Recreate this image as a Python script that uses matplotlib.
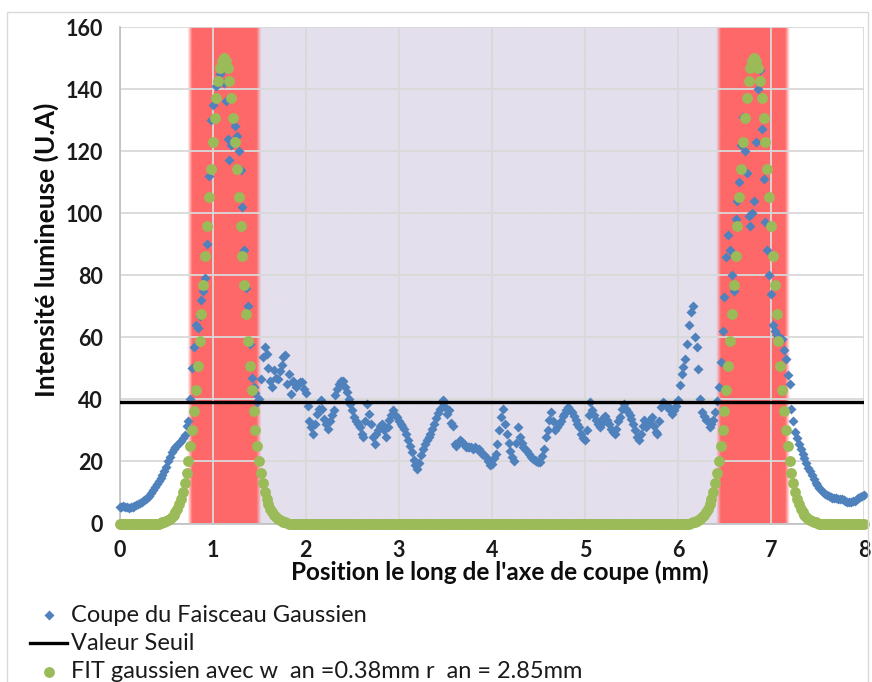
import numpy as np
import matplotlib
matplotlib.use("Agg")
import matplotlib.pyplot as plt
from matplotlib.lines import Line2D
from matplotlib.patches import Rectangle

plt.rcParams['font.family'] = ['Lato', 'DejaVu Sans']

# position le long de l'axe (mm)
x_mm = [
    0.00, 0.02, 0.04, 0.06, 0.08, 0.10, 0.12, 0.14, 0.16, 0.18,
    0.20, 0.22, 0.24, 0.26, 0.28, 0.30, 0.32, 0.34, 0.36, 0.38,
    0.40, 0.42, 0.44, 0.46, 0.48, 0.50, 0.52, 0.54, 0.56, 0.58,
    0.60, 0.62, 0.64, 0.66, 0.68, 0.70, 0.72, 0.74, 0.76, 0.78,
    0.80, 0.82, 0.84, 0.86, 0.88, 0.90, 0.92, 0.94, 0.96, 0.98,
    1.00, 1.02, 1.04, 1.06, 1.08, 1.10, 1.12, 1.14, 1.16, 1.18,
    1.20, 1.22, 1.24, 1.26, 1.28, 1.30, 1.32, 1.34, 1.36, 1.38,
    1.40, 1.42, 1.44, 1.46, 1.48, 1.50, 1.52, 1.54, 1.56, 1.58,
    1.60, 1.62, 1.64, 1.66, 1.68, 1.70, 1.72, 1.74, 1.76, 1.78,
    1.80, 1.82, 1.84, 1.86, 1.88, 1.90, 1.92, 1.94, 1.96, 1.98,
    2.00, 2.02, 2.04, 2.06, 2.08, 2.10, 2.12, 2.14, 2.16, 2.18,
    2.20, 2.22, 2.24, 2.26, 2.28, 2.30, 2.32, 2.34, 2.36, 2.38,
    2.40, 2.42, 2.44, 2.46, 2.48, 2.50, 2.52, 2.54, 2.56, 2.58,
    2.60, 2.62, 2.64, 2.66, 2.68, 2.70, 2.72, 2.74, 2.76, 2.78,
    2.80, 2.82, 2.84, 2.86, 2.88, 2.90, 2.92, 2.94, 2.96, 2.98,
    3.00, 3.02, 3.04, 3.06, 3.08, 3.10, 3.12, 3.14, 3.16, 3.18,
    3.20, 3.22, 3.24, 3.26, 3.28, 3.30, 3.32, 3.34, 3.36, 3.38,
    3.40, 3.42, 3.44, 3.46, 3.48, 3.50, 3.52, 3.54, 3.56, 3.58,
    3.60, 3.62, 3.64, 3.66, 3.68, 3.70, 3.72, 3.74, 3.76, 3.78,
    3.80, 3.82, 3.84, 3.86, 3.88, 3.90, 3.92, 3.94, 3.96, 3.98,
    4.00, 4.02, 4.04, 4.06, 4.08, 4.10, 4.12, 4.14, 4.16, 4.18,
    4.20, 4.22, 4.24, 4.26, 4.28, 4.30, 4.32, 4.34, 4.36, 4.38,
    4.40, 4.42, 4.44, 4.46, 4.48, 4.50, 4.52, 4.54, 4.56, 4.58,
    4.60, 4.62, 4.64, 4.66, 4.68, 4.70, 4.72, 4.74, 4.76, 4.78,
    4.80, 4.82, 4.84, 4.86, 4.88, 4.90, 4.92, 4.94, 4.96, 4.98,
    5.00, 5.02, 5.04, 5.06, 5.08, 5.10, 5.12, 5.14, 5.16, 5.18,
    5.20, 5.22, 5.24, 5.26, 5.28, 5.30, 5.32, 5.34, 5.36, 5.38,
    5.40, 5.42, 5.44, 5.46, 5.48, 5.50, 5.52, 5.54, 5.56, 5.58,
    5.60, 5.62, 5.64, 5.66, 5.68, 5.70, 5.72, 5.74, 5.76, 5.78,
    5.80, 5.82, 5.84, 5.86, 5.88, 5.90, 5.92, 5.94, 5.96, 5.98,
    6.00, 6.02, 6.04, 6.06, 6.08, 6.10, 6.12, 6.14, 6.16, 6.18,
    6.20, 6.22, 6.24, 6.26, 6.28, 6.30, 6.32, 6.34, 6.36, 6.38,
    6.40, 6.42, 6.44, 6.46, 6.48, 6.50, 6.52, 6.54, 6.56, 6.58,
    6.60, 6.62, 6.64, 6.66, 6.68, 6.70, 6.72, 6.74, 6.76, 6.78,
    6.80, 6.82, 6.84, 6.86, 6.88, 6.90, 6.92, 6.94, 6.96, 6.98,
    7.00, 7.02, 7.04, 7.06, 7.08, 7.10, 7.12, 7.14, 7.16, 7.18,
    7.20, 7.22, 7.24, 7.26, 7.28, 7.30, 7.32, 7.34, 7.36, 7.38,
    7.40, 7.42, 7.44, 7.46, 7.48, 7.50, 7.52, 7.54, 7.56, 7.58,
    7.60, 7.62, 7.64, 7.66, 7.68, 7.70, 7.72, 7.74, 7.76, 7.78,
    7.80, 7.82, 7.84, 7.86, 7.88, 7.90, 7.92, 7.94, 7.96, 7.98,
    8.00,
]

# coupe mesuree (U.A)
coupe = [
    5.3, 5.4, 5.5, 5.3, 5.2, 5.0, 5.2, 5.4, 5.6, 5.9,
    6.3, 6.6, 7.0, 7.5, 8.0, 8.4, 8.9, 9.8, 10.8, 11.8,
    12.7, 13.6, 14.6, 15.5, 17.0, 18.3, 20.0, 21.5, 23.0, 24.0,
    24.8, 25.3, 26.0, 26.6, 27.5, 28.5, 31.5, 33.0, 40.0, 50.0,
    57, 64, 63, 67, 72, 75, 79, 90, 112, 130,
    135, 137, 141, 143, 145, 146, 142, 136, 124, 117,
    122, 130, 128, 125, 120, 114, 102, 88, 76, 70,
    58, 47, 44, 42, 39, 40, 46.7, 53.6, 56.9, 54.7,
    50, 46, 44, 49.4, 47, 46.7, 49, 51, 53.6, 54.2,
    45, 48.3, 41.8, 46, 45, 44, 45, 45.6, 45.6, 43.4,
    42, 38, 33, 31, 28.9, 32, 35.4, 37, 39.7, 37,
    33.8, 32, 30.5, 33, 35, 36.5, 41.3, 43.5, 45, 46,
    46, 44, 42.4, 40, 38.6, 36.5, 34.3, 33, 32, 31,
    29, 27.8, 33, 38.6, 35.4, 32, 28, 25.7, 28.9, 30,
    31.5, 32.2, 30, 27.8, 31, 33.5, 35, 36.5, 35, 34.3,
    33, 32.2, 31.5, 30.5, 29, 26.8, 25, 23, 20.5, 19,
    17.6, 19.5, 22, 24, 25.7, 27, 28, 28.9, 30.5, 32,
    34, 35.5, 37, 39.1, 39.7, 37.5, 35.4, 36.5, 32.5, 31.3,
    25.7, 25, 26, 26.8, 26.2, 25.5, 24.6, 24.8, 24.6, 24.6,
    24, 24.5, 24, 24, 23, 22.5, 22, 21.4, 20, 18.7,
    19.3, 21, 22.5, 25.7, 30, 34.3, 37, 32, 28.9, 26,
    23.5, 21.5, 20.3, 26, 31, 27.8, 26, 24.6, 24, 23.5,
    22.5, 21.5, 20.9, 20.5, 20, 19.8, 19.8, 21.9, 24, 27.8,
    30, 33.2, 35.9, 33, 30, 31, 32.2, 33, 34.5, 35.4,
    36.5, 37.5, 36.5, 35.9, 34.5, 33.2, 32, 31, 29, 27.5,
    26.8, 30, 35, 39.1, 36.5, 35, 33.2, 32, 31, 32.5,
    34, 34.8, 33.5, 32.2, 30.5, 29.5, 28.9, 30.5, 33, 34.3,
    37, 38.6, 37, 36, 35, 33.8, 32, 30, 28, 26.8,
    29, 31.5, 33.2, 31, 32.5, 33.2, 34.3, 31.5, 29.5, 28.9,
    33, 37.5, 39.1, 38.5, 37.5, 37.5, 36.5, 35.4, 36.5, 38,
    39.7, 44.5, 48.3, 50.4, 53, 58, 64, 68, 70, 60,
    56.9, 49.9, 40, 36, 34.5, 33.5, 33, 31, 32, 33.2,
    36, 39.5, 44, 52, 62, 73, 86, 93, 88, 80,
    75, 98, 104, 110, 122, 131, 120, 113, 99, 96,
    100, 104, 123, 140, 146, 127, 111, 97, 88, 80,
    74, 64, 62, 60.6, 60, 59.8, 59.6, 56, 53, 48,
    45, 37, 33, 29.5, 27.5, 25.5, 24, 22.5, 21, 19.5,
    18, 17, 15.5, 14.2, 13.2, 12.3, 11.5, 10.8, 10.2, 9.6,
    9.2, 8.8, 8.5, 8.3, 8.2, 8.1, 8.0, 8.0, 7.8, 7.5,
    7.2, 7.0, 6.9, 7.0, 7.2, 7.4, 7.8, 8.2, 8.5, 8.8,
    9.2,
]

# pic du fit gaussien (valeurs lues de 0.44 a 1.80 mm, identique pour le second pic)
pic_fit = [
    0.25, 0.36, 0.52, 0.73, 1.02, 1.42, 1.95, 2.64, 3.55, 4.70,
    6.17, 8.01, 10.27, 13.03, 16.36, 20.30, 24.92, 30.26, 36.32, 43.13,
    50.64, 58.81, 67.55, 76.73, 86.20, 95.77, 105.22, 114.34, 122.88, 130.60,
    137.28, 142.70, 146.71, 149.17, 150.00, 149.17, 146.71, 142.70, 137.28, 130.60,
    122.88, 114.34, 105.22, 95.77, 86.20, 76.73, 67.55, 58.81, 50.64, 43.13,
    36.32, 30.26, 24.92, 20.30, 16.36, 13.03, 10.27, 8.01, 6.17, 4.70,
    3.55, 2.64, 1.95, 1.42, 1.02, 0.73, 0.52, 0.36, 0.25,
]
fit = [0.0] * 22 + pic_fit + [0.0] * 216 + pic_fit + [0.0] * 25

seuil = 39
bandes_rouges = [(0.75, 1.49), (6.43, 7.17)]
bande_lavande = (1.49, 6.43)

bleu = '#4F81BD'
vert = '#9BBB59'
rouge = np.array([254, 104, 104]) / 255
lavande = np.array([228, 223, 236]) / 255

W, H = 872, 682
fig = plt.figure(figsize=(W / 100, H / 100), dpi=100)
ax = fig.add_axes([119.6 / W, 1 - 523.5 / H, (864 - 119.6) / W, (523.5 - 27) / H])

# fond: bandes floues
xs = np.linspace(0, 8, 2000)
e = 0.025


def ramp(a, b):
    return np.clip((xs - a) / (2 * e) + 0.5, 0, 1) * np.clip((b - xs) / (2 * e) + 0.5, 0, 1)


w_r = sum(ramp(a, b) for a, b in bandes_rouges)
w_l = ramp(*bande_lavande)
img = np.ones((1, len(xs), 3))
img = img * (1 - w_r - w_l)[None, :, None] + rouge * w_r[None, :, None] + lavande * w_l[None, :, None]
ax.imshow(img, extent=[0, 8, 0, 160], aspect='auto', zorder=0, interpolation='bilinear')

ax.plot(x_mm, coupe, linestyle='none', marker='D', ms=5.0, color=bleu, mec='none',
        clip_on=False, zorder=3)
ax.plot([0, 8], [seuil, seuil], color='black', lw=2.4, zorder=4)
ax.plot(x_mm, fit, linestyle='none', marker='o', ms=7.8, color=vert, mec='none',
        clip_on=False, zorder=5)

ax.set_xlim(0, 8)
ax.set_ylim(0, 160)
ax.set_xticks(range(0, 9))
ax.set_yticks(range(0, 161, 20))
ax.set_axisbelow(True)
ax.grid(True, color='#D9D9D9', lw=1.3)
for s in ['top', 'right']:
    ax.spines[s].set_visible(False)
for s in ['left', 'bottom']:
    ax.spines[s].set_color('#BFBFBF')
    ax.spines[s].set_linewidth(1.2)
ax.tick_params(length=0, labelsize=15.5, pad=12)
for lab in ax.get_xticklabels() + ax.get_yticklabels():
    lab.set_fontweight('bold')
    lab.set_color('#1A1A1A')

fig.text(46 / W, 1 - 250 / H, "Intensité lumineuse (U.A)", rotation=90, ha='center', va='center',
         fontsize=19, fontweight='bold', color='#0D0D0D')
fig.text(500 / W, 1 - 572 / H, "Position le long de l'axe de coupe (mm)", ha='center', va='center',
         fontsize=17.5, fontweight='bold', color='#0D0D0D')

# légende
rows = [615, 643, 672]
labels = ["Coupe du Faisceau Gaussien", "Valeur Seuil", "FIT gaussien avec w  an =0.38mm r  an = 2.85mm"]
fig.add_artist(Line2D([48.5 / W], [1 - rows[0] / H], marker='D', ms=5.0, color=bleu, mec='none',
                      linestyle='none', transform=fig.transFigure))
fig.add_artist(Line2D([30 / W, 67 / W], [1 - rows[1] / H] * 2, color='black', lw=2.4,
                      transform=fig.transFigure))
fig.add_artist(Line2D([48.5 / W], [1 - rows[2] / H], marker='o', ms=7.8, color=vert, mec='none',
                      linestyle='none', transform=fig.transFigure))
for r, t in zip(rows, labels):
    fig.text(71 / W, 1 - r / H, t, ha='left', va='center', fontsize=17, color='#1A1A1A')

fig.add_artist(Rectangle((7 / W, 1 - 720 / H), 861 / W, (720 - 12) / H, fill=False,
                         edgecolor='#D9D9D9', lw=1, transform=fig.transFigure))

fig.savefig('out.png', dpi=100)
